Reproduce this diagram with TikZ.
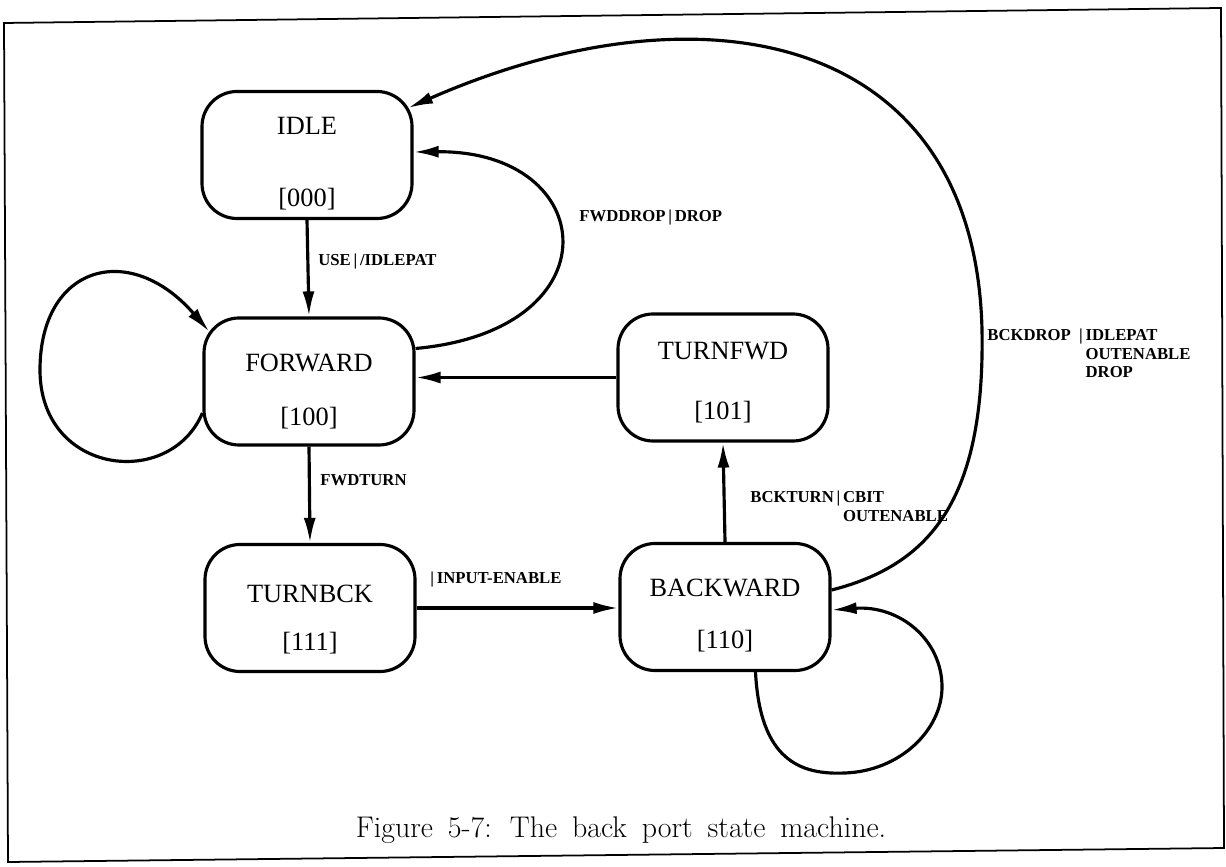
\documentclass[tikz,border=0pt]{standalone}
\usepackage{fontspec}
\newfontfamily\diafont{Liberation Serif}
\usetikzlibrary{arrows.meta}

\begin{document}
\begin{tikzpicture}[
  state/.style={draw, line width=1.8pt, rounded corners=0.7cm, minimum width=4.2cm, minimum height=2.54cm, align=center, font=\diafont\fontsize{15}{17}\selectfont},
  trans/.style={line width=1.8pt, -{Latex[length=0.5cm,width=0.24cm]}},
  lbl/.style={inner sep=0pt, align=left, font=\diafont\bfseries\fontsize{9.5}{10.5}\selectfont}
]
\useasboundingbox (0,0) rectangle (24.52,17.32);
\draw [line width=1pt] (0.08,16.86) -- (24.42,17.16) -- (24.48,0.36) -- (0.16,0.08) -- cycle;
% states
\node [state] (idle) at (6.14,14.22) {\rule{0pt}{0.7cm}IDLE\\[0.84cm][000]};
\node [state] (fwd) at (6.18,9.69) {\rule{0pt}{0.75cm}FORWARD\\[0.48cm][100]};
\node [state] (tfwd) at (14.46,9.77) {\rule{0pt}{0.55cm}TURNFWD\\[0.6cm][101]};
\node [state] (tbck) at (6.20,5.16) {\rule{0pt}{0.8cm}TURNBCK\\[0.36cm][111]};
\node [state] (bwd) at (14.50,5.18) {\rule{0pt}{0.7cm}BACKWARD\\[0.44cm][110]};
% transitions
\draw [trans] (idle.south) -- (fwd.north);
\draw [trans] ([yshift=0.66cm]fwd.east) .. controls (12.34,10.72) and (12.0,14.32) .. ([yshift=0.06cm]idle.east);
\draw [trans] ([yshift=-0.63cm]fwd.west) .. controls (3.4,7.52) and (0.8,7.82) .. (0.8,9.92) .. controls (0.8,12.02) and (2.6,12.52) .. ([xshift=0.14cm]fwd.155);
\draw [trans] (tfwd.west) -- (tfwd.west -| fwd.east);
\draw [trans] (fwd.south) -- (tbck.north);
\draw [trans] (tbck.east) -- (tbck.east -| bwd.west);
\draw [trans] (bwd.north) -- (tfwd.south);
\draw [trans] ([yshift=0.34cm]bwd.east) .. controls (18.6,6.02) and (19.7,7.32) .. (19.64,10.72) .. controls (19.5,16.72) and (14.0,17.72) .. ([xshift=-0.11cm,yshift=0.94cm]idle.east);
\draw [trans] ([xshift=0.61cm]bwd.south) .. controls (15.2,2.12) and (16.0,1.82) .. (16.9,1.86) .. controls (18.0,1.9) and (18.84,2.72) .. (18.84,3.58) .. controls (18.84,4.52) and (18.0,5.22) .. ([yshift=-0.06cm]bwd.east);
% labels
\node [lbl, anchor=west] (lUse) at (6.36,12.08) {USE\,|\,/IDLEPAT};
\node [lbl, anchor=west] (lFwdDrop) at (11.58,12.96) {FWDDROP\,|\,DROP};
\node [lbl, anchor=north west] (lBckDrop) at (19.74,10.74) {BCKDROP\ \ |\,IDLEPAT\\\hphantom{BCKDROP\ \ |\,}OUTENABLE\\\hphantom{BCKDROP\ \ |\,}DROP};
\node [lbl, anchor=west] (lFwdTurn) at (6.40,7.72) {FWDTURN};
\node [lbl, anchor=north west] (lBckTurn) at (15.0,7.5) {BCKTURN\,|\,CBIT\\\hphantom{BCKTURN\,|\,}OUTENABLE};
\node [lbl, anchor=west] (lInput) at (8.6,5.72) {|\,INPUT-ENABLE};
% caption
\node (caption) at (12.42,0.72) {\fontsize{17}{20}\selectfont\spaceskip=0.5em plus 0.1em Figure 5-7: The back port state machine.};
\end{tikzpicture}
\end{document}
